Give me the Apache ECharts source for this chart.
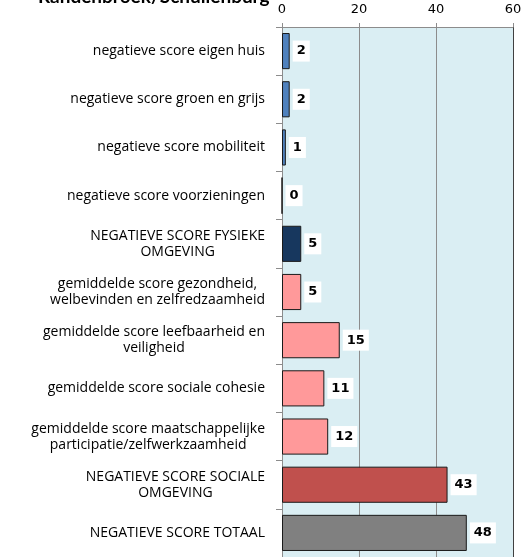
<!DOCTYPE html>
<html>
<head>
<meta charset="utf-8">
<script src="https://cdn.jsdelivr.net/npm/echarts@6/dist/echarts.min.js"></script>
<style>
  html, body { margin: 0; padding: 0; background: #fff; }
  #chart { width: 525px; height: 557px; }
</style>
</head>
<body>
<div id="chart"></div>
<script>
// Indicator names (line breaks as shown on the axis)
const categories = [
  'negatieve score eigen huis',
  'negatieve score groen en grijs',
  'negatieve score mobiliteit',
  'negatieve score voorzieningen',
  'NEGATIEVE SCORE FYSIEKE\nOMGEVING',
  'gemiddelde score gezondheid,\nwelbevinden en zelfredzaamheid',
  'gemiddelde score leefbaarheid en\nveiligheid',
  'gemiddelde score sociale cohesie',
  'gemiddelde score maatschappelijke\nparticipatie/zelfwerkzaamheid',
  'NEGATIEVE SCORE SOCIALE\nOMGEVING',
  'NEGATIEVE SCORE TOTAAL'
];

// Score per indicator
const scores = [2, 2, 1, 0, 5, 5, 15, 11, 12, 43, 48];

// Value axis ticks
const axisTicks = [0, 20, 40, 60];

const titleText = 'Randenbroek/Schuilenburg';

// Fill per indicator group
const barColors = [
  '#4F81BD', '#4F81BD', '#4F81BD', '#4F81BD',
  '#17375E',
  '#FF999A', '#FF999A', '#FF999A', '#FF999A',
  '#C0504D',
  '#808080'
];

const labelFont = 'Open Sans';
const gridGray = '#8c8c8c';

const chart = echarts.init(document.getElementById('chart'), null, { renderer: 'canvas' });

chart.setOption({
  animation: false,
  backgroundColor: '#ffffff',
  title: {
    text: titleText,
    left: 33,
    top: -18,
    textStyle: { fontFamily: 'Lato', fontWeight: 'bold', fontSize: 19, color: '#000' }
  },
  grid: {
    left: 282,
    top: 27,
    width: 231,
    height: 536,
    show: true,
    borderWidth: 0,
    backgroundColor: '#DAEEF3'
  },
  xAxis: {
    type: 'value',
    position: 'top',
    min: axisTicks[0],
    max: axisTicks[axisTicks.length - 1],
    interval: axisTicks[1] - axisTicks[0],
    axisLine: { show: true, lineStyle: { color: gridGray, width: 1 } },
    axisTick: { show: true, length: 4, lineStyle: { color: gridGray } },
    axisLabel: {
      fontFamily: 'DejaVu Sans',
      fontSize: 13,
      color: '#000',
      margin: 11
    },
    splitLine: {
      show: true,
      lineStyle: { color: [gridGray, gridGray, gridGray, '#404040'], width: 1 }
    }
  },
  yAxis: {
    type: 'category',
    inverse: true,
    data: categories,
    axisLine: { show: true, lineStyle: { color: gridGray } },
    axisTick: { show: true, length: 6, lineStyle: { color: gridGray } },
    axisLabel: {
      margin: 17,
      align: 'right',
      formatter: function (v) {
        return v.split('\n').map(function (s) { return '{c|' + s + '}'; }).join('\n');
      },
      rich: {
        c: {
          align: 'center',
          fontFamily: labelFont,
          fontSize: 14,
          lineHeight: 16,
          color: '#000'
        }
      }
    }
  },
  series: [{
    type: 'bar',
    data: scores.map(function (v, i) {
      return { value: v, itemStyle: { color: barColors[i] } };
    }),
    barCategoryGap: '25%',
    itemStyle: { borderColor: '#1a1a1a', borderWidth: 1 },
    label: {
      show: true,
      position: 'right',
      distance: 3,
      formatter: '{c}',
      fontFamily: 'DejaVu Sans',
      fontWeight: 'bold',
      fontSize: 13,
      color: '#000',
      backgroundColor: '#ffffff',
      padding: [4, 4, 4, 4]
    }
  }]
});
</script>
</body>
</html>
